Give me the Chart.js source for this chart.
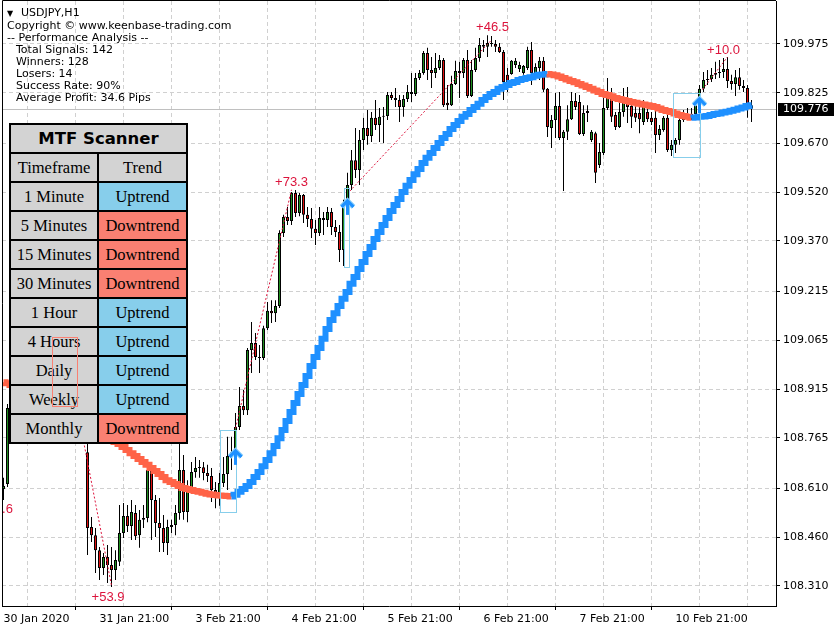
<!DOCTYPE html>
<html>
<head>
<meta charset="utf-8">
<title>USDJPY,H1</title>
<script src="https://cdn.jsdelivr.net/npm/chart.js@4.4.1/dist/chart.umd.min.js"></script>
<style>
  html, body { margin: 0; padding: 0; background: #fff; }
  #wrap { position: relative; width: 840px; height: 630px; overflow: hidden; }
  #chart { position: absolute; left: 0; top: 0; }
  #info { position: absolute; left: 7px; top: 7px; font: 11px "DejaVu Sans"; line-height: 12px; color: #000; white-space: pre; }
  #info .in { padding-left: 9px; }
  #info .tri { display: inline-block; width: 14px; font-size: 8px; }
  #scanner { position: absolute; left: 9px; top: 123px; width: 179px; height: 321px; background: #000; }
  #scanner div { position: absolute; height: 27px; text-align: center; font: 16.5px/27px "Liberation Serif"; color: #000; }
  #scanner div.title { font: bold 16.5px/27px "DejaVu Sans"; }
  #sellBox { position: absolute; border: 1px solid #fa8072; box-sizing: border-box; }
</style>
</head>
<body>
<div id="wrap">
  <canvas id="chart" width="840" height="630"></canvas>
  <div id="info"><span class="tri">▼</span>USDJPY,H1
Copyright © www.keenbase-trading.com
-- Performance Analysis --
<span class="in">Total Signals: 142</span>
<span class="in">Winners: 128</span>
<span class="in">Losers: 14</span>
<span class="in">Success Rate: 90%</span>
<span class="in">Average Profit: 34.6 Pips</span></div>
  <div id="scanner"></div>
  <div id="sellBox"></div>
</div>
<script>
// H1 bars, index 0 = first visible bar
const open = [
  108.608,108.623,108.857,108.887,108.918,108.906,108.961,108.989,108.973,109.010,
  109.035,109.013,109.047,109.019,108.989,109.016,108.955,108.980,108.912,108.881,
  108.820,108.721,108.491,108.466,108.420,108.365,108.399,108.374,108.359,108.384,
  108.473,108.525,108.494,108.534,108.466,108.513,108.519,108.666,108.574,108.503,
  108.488,108.442,108.491,108.497,108.534,108.666,108.537,108.605,108.660,108.672,
  108.675,108.657,108.648,108.605,108.586,108.626,108.654,108.709,108.721,108.798,
  108.863,108.850,109.035,109.056,109.013,109.010,109.102,109.155,109.148,109.170,
  109.394,109.443,109.431,109.517,109.456,109.511,109.450,109.437,109.407,109.394,
  109.440,109.434,109.459,109.413,109.397,109.342,109.480,109.542,109.618,109.588,
  109.680,109.717,109.692,109.748,109.726,109.751,109.754,109.818,109.809,109.803,
  109.781,109.806,109.827,109.821,109.870,109.886,109.947,109.895,109.886,109.901,
  109.926,109.794,109.787,109.852,109.892,109.886,109.926,109.815,109.895,109.932,
  109.972,109.966,109.978,109.975,109.966,109.950,109.880,109.883,109.910,109.898,
  109.886,109.901,109.956,109.883,109.901,109.923,109.837,109.717,109.741,109.784,
  109.686,109.705,109.744,109.800,109.797,109.698,109.763,109.680,109.701,109.603,
  109.640,109.778,109.818,109.757,109.720,109.766,109.809,109.784,109.763,109.763,
  109.735,109.766,109.748,109.748,109.695,109.711,109.748,109.649,109.665,109.680,
  109.741,109.757,109.751,109.760,109.787,109.837,109.864,109.867,109.880,109.886,
  109.889,109.898,109.861,109.852,109.873,109.846,109.840,109.787
];
const high = [
  108.642,108.869,108.906,108.933,108.949,108.973,109.004,109.029,109.019,109.050,
  109.066,109.059,109.075,109.050,109.035,109.041,108.998,109.004,108.943,108.906,
  108.850,108.764,108.522,108.488,108.430,108.411,108.436,108.430,108.420,108.559,
  108.565,108.559,108.574,108.559,108.543,108.559,108.682,108.672,108.589,108.580,
  108.528,108.513,108.513,108.559,108.758,108.712,108.635,108.691,108.706,108.697,
  108.691,108.682,108.672,108.629,108.657,108.706,108.768,108.768,108.841,108.921,
  108.912,109.041,109.121,109.087,109.050,109.109,109.182,109.188,109.188,109.403,
  109.450,109.474,109.520,109.526,109.517,109.514,109.474,109.471,109.434,109.474,
  109.459,109.474,109.471,109.434,109.419,109.496,109.579,109.649,109.717,109.711,
  109.748,109.772,109.766,109.803,109.778,109.781,109.827,109.827,109.840,109.818,
  109.818,109.849,109.886,109.886,109.895,109.953,109.963,109.935,109.947,109.941,
  109.932,109.849,109.877,109.923,109.920,109.932,109.956,109.926,109.963,109.993,
  109.987,110.002,109.999,109.987,109.978,109.956,109.901,109.926,109.932,109.920,
  109.910,109.966,109.981,109.916,109.935,109.935,109.840,109.757,109.824,109.827,
  109.711,109.787,109.827,109.824,109.818,109.787,109.787,109.711,109.705,109.671,
  109.809,109.870,109.840,109.766,109.809,109.840,109.843,109.809,109.797,109.803,
  109.803,109.787,109.766,109.772,109.726,109.754,109.763,109.680,109.686,109.751,
  109.772,109.778,109.778,109.803,109.849,109.889,109.895,109.901,109.920,109.926,
  109.932,109.935,109.880,109.895,109.901,109.864,109.849,109.803
];
const low = [
  108.574,108.614,108.838,108.875,108.893,108.897,108.943,108.967,108.949,108.989,
  108.998,108.992,109.004,108.973,108.967,108.943,108.918,108.897,108.863,108.804,
  108.755,108.405,108.445,108.350,108.328,108.344,108.319,108.307,108.328,108.371,
  108.457,108.476,108.451,108.451,108.427,108.488,108.506,108.451,108.460,108.414,
  108.414,108.405,108.473,108.466,108.513,108.513,108.506,108.599,108.642,108.642,
  108.635,108.629,108.568,108.549,108.556,108.614,108.605,108.666,108.697,108.789,
  108.835,108.835,108.964,109.004,108.964,109.004,109.096,109.118,109.121,109.164,
  109.382,109.419,109.419,109.443,109.446,109.425,109.413,109.379,109.357,109.385,
  109.388,109.413,109.388,109.382,109.305,109.293,109.471,109.526,109.563,109.542,
  109.649,109.665,109.674,109.711,109.674,109.671,109.741,109.803,109.781,109.735,
  109.751,109.797,109.797,109.815,109.864,109.880,109.864,109.840,109.870,109.895,
  109.781,109.772,109.784,109.849,109.809,109.870,109.809,109.812,109.889,109.920,
  109.950,109.935,109.966,109.950,109.947,109.803,109.827,109.880,109.901,109.889,
  109.880,109.895,109.849,109.880,109.864,109.827,109.689,109.655,109.686,109.680,
  109.523,109.680,109.741,109.772,109.695,109.692,109.735,109.674,109.548,109.594,
  109.634,109.772,109.735,109.711,109.717,109.751,109.732,109.717,109.735,109.701,
  109.726,109.735,109.726,109.640,109.680,109.705,109.643,109.631,109.640,109.665,
  109.735,109.741,109.741,109.754,109.781,109.827,109.849,109.858,109.867,109.870,
  109.870,109.840,109.834,109.815,109.834,109.827,109.748,109.735
];
const close = [
  108.617,108.857,108.887,108.918,108.906,108.961,108.989,108.973,109.010,109.035,
  109.013,109.047,109.019,108.989,109.016,108.955,108.980,108.912,108.881,108.820,
  108.764,108.488,108.466,108.420,108.365,108.399,108.374,108.359,108.390,108.473,
  108.525,108.494,108.537,108.463,108.513,108.519,108.666,108.574,108.503,108.488,
  108.442,108.491,108.497,108.534,108.666,108.537,108.605,108.660,108.672,108.675,
  108.657,108.648,108.605,108.586,108.626,108.654,108.709,108.721,108.798,108.863,
  108.850,109.035,109.056,109.013,109.010,109.102,109.155,109.148,109.170,109.394,
  109.443,109.431,109.517,109.456,109.511,109.450,109.437,109.407,109.394,109.440,
  109.434,109.459,109.413,109.397,109.342,109.480,109.542,109.618,109.588,109.680,
  109.717,109.692,109.748,109.726,109.751,109.754,109.818,109.809,109.803,109.781,
  109.806,109.827,109.821,109.870,109.886,109.947,109.895,109.886,109.901,109.926,
  109.787,109.787,109.852,109.892,109.886,109.926,109.815,109.895,109.932,109.972,
  109.966,109.978,109.975,109.966,109.950,109.858,109.858,109.923,109.923,109.910,
  109.907,109.956,109.886,109.904,109.923,109.834,109.720,109.741,109.784,109.686,
  109.705,109.744,109.800,109.781,109.698,109.763,109.769,109.705,109.579,109.643,
  109.778,109.818,109.751,109.720,109.766,109.809,109.781,109.751,109.748,109.744,
  109.797,109.744,109.735,109.695,109.714,109.748,109.649,109.665,109.680,109.741,
  109.757,109.751,109.760,109.787,109.837,109.864,109.867,109.880,109.886,109.889,
  109.898,109.861,109.852,109.873,109.846,109.840,109.787,109.776
];
// trend moving average (blue when rising, tomato when falling)
const trendMA = [
  108.936,108.933,108.927,108.921,108.915,108.909,108.903,108.893,108.887,108.881,
  108.875,108.869,108.860,108.854,108.844,108.838,108.829,108.820,108.814,108.804,
  108.798,108.789,108.783,108.774,108.768,108.761,108.758,108.755,108.752,108.746,
  108.737,108.728,108.718,108.709,108.700,108.691,108.682,108.672,108.663,108.654,
  108.645,108.635,108.629,108.623,108.617,108.611,108.608,108.605,108.602,108.599,
  108.596,108.593,108.591,108.589,108.588,108.587,108.586,108.585,108.590,108.599,
  108.608,108.617,108.629,108.645,108.660,108.678,108.697,108.718,108.740,108.764,
  108.789,108.817,108.844,108.872,108.900,108.927,108.955,108.986,109.013,109.041,
  109.069,109.099,109.127,109.148,109.170,109.192,109.213,109.238,109.259,109.284,
  109.305,109.330,109.351,109.376,109.397,109.419,109.440,109.462,109.480,109.499,
  109.520,109.539,109.557,109.575,109.591,109.609,109.625,109.640,109.655,109.671,
  109.686,109.698,109.714,109.726,109.738,109.751,109.760,109.772,109.781,109.791,
  109.803,109.812,109.821,109.827,109.837,109.843,109.849,109.855,109.858,109.864,
  109.867,109.870,109.873,109.877,109.880,109.881,109.883,109.881,109.879,109.875,
  109.870,109.866,109.861,109.857,109.852,109.847,109.843,109.837,109.832,109.827,
  109.821,109.818,109.814,109.809,109.806,109.803,109.800,109.797,109.794,109.791,
  109.789,109.787,109.784,109.781,109.777,109.772,109.769,109.766,109.761,109.757,
  109.754,109.751,109.748,109.749,109.751,109.752,109.754,109.757,109.760,109.761,
  109.764,109.767,109.770,109.773,109.777,109.780,109.784,109.787
];
const lastPrice = 109.776;

// axes
const priceTicks = [108.310,108.460,108.610,108.765,108.915,109.065,109.215,109.370,109.520,109.670,109.825,109.975];
const gridBars = [0,12,24,36,48,60,72,84,96,108,120,132,144,156,168,180,192];
const timeTickBars = [0,24,48,72,96,120,144,168];
const timeLabels = ['30 Jan 2020','31 Jan 21:00','3 Feb 21:00','4 Feb 21:00','5 Feb 21:00','6 Feb 21:00','7 Feb 21:00','10 Feb 21:00'];

// closed trades (dotted lines) and their results
const tradeEntryBar = [18.5, 58, 86.5, 174.75];
const tradeEntryPrice = [108.850, 108.794, 109.522, 109.835];
const tradeExitBar = [27, 72, 122, 181];
const tradeExitPrice = [108.311, 109.527, 109.987, 109.935];
const labelText = ['+38.6', '+53.9', '+73.3', '+46.5', '+10.0'];
const labelBar = [-1.75, 26.125, 72, 122.25, 180];
const labelPrice = [108.546, 108.276, 109.551, 110.027, 109.955];

// buy signals: arrow + zone box
const signalBar = [58, 86, 174];
const signalPrice = [108.728, 109.496, 109.809];
const boxFromBar = [54, 85, 167.25];
const boxToBar = [58, 86.25, 174];
const boxHigh = [108.789, 109.532, 109.824];
const boxLow = [108.537, 109.290, 109.628];
// sell signal zone
const sellBoxBars = [12, 18.25];
const sellBoxPrices = [109.075, 108.863];

// MTF scanner table
const timeframes = ['1 Minute','5 Minutes','15 Minutes','30 Minutes','1 Hour','4 Hours','Daily','Weekly','Monthly'];
const trends = ['Uptrend','Downtrend','Downtrend','Downtrend','Uptrend','Uptrend','Uptrend','Uptrend','Downtrend'];

const bull = '#1f8f1f', bear = '#e01010';
const maUp = '#1e90ff', maDown = '#ff6347';
const gridColor = '#d0d0d0';
const tradeColor = '#dc143c';

const scanner = document.getElementById('scanner');
function cell(text, left, top, width, bg, cls) {
  const d = document.createElement('div');
  d.textContent = text;
  d.style.left = left + 'px';
  d.style.top = top + 'px';
  d.style.width = width + 'px';
  d.style.background = bg;
  if (cls) d.className = cls;
  scanner.appendChild(d);
}
cell('MTF Scanner', 2, 2, 175, '#d3d3d3', 'title');
cell('Timeframe', 2, 31, 86, '#d3d3d3');
cell('Trend', 90, 31, 87, '#d3d3d3');
timeframes.forEach((tf, r) => {
  const top = 60 + 29 * r;
  cell(tf, 2, top, 86, '#d3d3d3');
  cell(trends[r], 90, top, 87, trends[r] === 'Uptrend' ? '#87ceeb' : '#fa8072');
});

function drawArrow(ctx, cx, tipY) {
  ctx.lineCap = 'butt';
  ctx.strokeStyle = '#87cefa';
  ctx.lineWidth = 5;
  ctx.beginPath(); ctx.moveTo(cx - 6, tipY + 7); ctx.lineTo(cx, tipY + 1); ctx.lineTo(cx + 6, tipY + 7); ctx.stroke();
  ctx.strokeStyle = maUp;
  ctx.lineWidth = 3;
  ctx.beginPath(); ctx.moveTo(cx - 6, tipY + 7); ctx.lineTo(cx, tipY + 1); ctx.lineTo(cx + 6, tipY + 7); ctx.stroke();
  ctx.beginPath(); ctx.moveTo(cx, tipY + 2); ctx.lineTo(cx, tipY + 15); ctx.stroke();
}

const overlay = {
  id: 'overlay',
  beforeDatasetsDraw(chart) {
    const { ctx, chartArea: a, scales: { y } } = chart;
    const py = Math.round(y.getPixelForValue(lastPrice)) + 0.5;
    ctx.save();
    ctx.strokeStyle = '#c0c0c0';
    ctx.lineWidth = 1;
    ctx.beginPath(); ctx.moveTo(a.left, py); ctx.lineTo(a.right, py); ctx.stroke();
    ctx.restore();
  },
  afterDatasetsDraw(chart) {
    const { ctx, chartArea: a, scales: { x, y } } = chart;
    ctx.save();
    ctx.beginPath(); ctx.rect(a.left, a.top, a.right - a.left, a.bottom - a.top); ctx.clip();

    ctx.strokeStyle = tradeColor;
    ctx.lineWidth = 1;
    ctx.setLineDash([2, 2]);
    tradeEntryBar.forEach((b, k) => {
      ctx.beginPath();
      ctx.moveTo(x.getPixelForValue(b), y.getPixelForValue(tradeEntryPrice[k]));
      ctx.lineTo(x.getPixelForValue(tradeExitBar[k]), y.getPixelForValue(tradeExitPrice[k]));
      ctx.stroke();
    });
    ctx.setLineDash([]);

    ctx.strokeStyle = '#87ceeb';
    boxFromBar.forEach((b, k) => {
      const x1 = Math.round(x.getPixelForValue(b)) + 0.5;
      const x2 = Math.round(x.getPixelForValue(boxToBar[k])) + 0.5;
      const y1 = Math.round(y.getPixelForValue(boxHigh[k])) + 0.5;
      const y2 = Math.round(y.getPixelForValue(boxLow[k])) + 0.5;
      ctx.strokeRect(x1, y1, x2 - x1, y2 - y1);
    });

    signalBar.forEach((b, k) => drawArrow(ctx, x.getPixelForValue(b), y.getPixelForValue(signalPrice[k])));

    ctx.fillStyle = tradeColor;
    ctx.font = '13px "Liberation Sans"';
    ctx.textAlign = 'center';
    ctx.textBaseline = 'middle';
    labelText.forEach((t, k) => ctx.fillText(t, x.getPixelForValue(labelBar[k]), y.getPixelForValue(labelPrice[k])));
    ctx.restore();
  },
  afterDraw(chart) {
    const { ctx, chartArea: a, scales: { y } } = chart;
    ctx.save();
    ctx.strokeStyle = '#000';
    ctx.lineWidth = 1;
    ctx.beginPath();
    ctx.moveTo(a.left + 0.5, a.bottom);
    ctx.lineTo(a.left + 0.5, a.top - 0.5);
    ctx.lineTo(a.right, a.top - 0.5);
    ctx.stroke();
    const py = Math.round(y.getPixelForValue(lastPrice));
    ctx.fillStyle = '#000';
    ctx.fillRect(a.right + 2, py - 6, 56, 13);
    ctx.fillStyle = '#fff';
    ctx.font = '11px "DejaVu Sans"';
    ctx.textAlign = 'left';
    ctx.textBaseline = 'middle';
    ctx.fillText(lastPrice.toFixed(3), a.right + 7, py + 0.5);
    ctx.restore();
  }
};

const tickFont = { family: 'DejaVu Sans', size: 11 };

const chart = new Chart(document.getElementById('chart'), {
  type: 'bar',
  data: {
    datasets: [
      {
        type: 'line',
        label: 'Trend MA',
        data: trendMA.map((v, i) => ({ x: i, y: v })),
        borderColor: maUp,
        borderWidth: 6,
        borderCapStyle: 'butt',
        borderJoinStyle: 'miter',
        stepped: 'middle',
        pointRadius: 0,
        segment: { borderColor: c => c.p1.parsed.y < c.p0.parsed.y ? maDown : maUp },
        order: 0
      },
      {
        label: 'Wick',
        data: low.map((l, i) => ({ x: i, y: [l, high[i]] })),
        backgroundColor: '#000',
        borderWidth: 0,
        barThickness: 1,
        inflateAmount: 0,
        grouped: false,
        order: 2
      },
      {
        label: 'Body',
        data: open.map((o, i) => ({ x: i, y: [o, close[i]] })),
        backgroundColor: close.map((c, i) => c >= open[i] ? bull : bear),
        borderColor: '#000',
        borderWidth: 1,
        borderSkipped: false,
        barThickness: 3,
        minBarLength: 1,
        inflateAmount: 0,
        grouped: false,
        order: 1
      }
    ]
  },
  options: {
    responsive: false,
    animation: false,
    events: [],
    layout: { padding: { left: 2, top: 1, right: 0, bottom: 0 }, autoPadding: false },
    plugins: { legend: { display: false }, tooltip: { enabled: false } },
    scales: {
      x: {
        type: 'linear',
        min: -0.375,
        max: 193.125,
        bounds: 'data',
        offset: false,
        afterBuildTicks: s => { s.ticks = gridBars.map(v => ({ value: v })); },
        afterFit: s => { s.height = 24; s.paddingLeft = 0; s.paddingRight = 0; },
        grid: {
          color: gridColor,
          tickLength: 4,
          tickColor: c => (c.tick && timeTickBars.includes(c.tick.value)) ? '#000' : 'rgba(0,0,0,0)'
        },
        border: { color: '#000', dash: [4, 3] },
        ticks: {
          align: 'start',
          autoSkip: false,
          maxRotation: 0,
          minRotation: 0,
          padding: 3,
          color: '#000',
          font: tickFont,
          callback: v => {
            const k = timeTickBars.indexOf(v);
            return k < 0 ? '' : timeLabels[k];
          }
        }
      },
      y: {
        position: 'right',
        min: 108.2484,
        max: 110.1069,
        bounds: 'data',
        afterBuildTicks: s => { s.ticks = priceTicks.map(v => ({ value: v })); },
        afterFit: s => { s.width = 64; s.paddingTop = 0; s.paddingBottom = 0; },
        grid: { color: gridColor, tickLength: 4, tickColor: '#000' },
        border: { color: '#000', dash: [4, 3] },
        ticks: { padding: 3, color: '#000', font: tickFont, callback: v => v.toFixed(3) }
      }
    }
  },
  plugins: [overlay]
});

// sell zone box sits on top of the scanner table
const sx = chart.scales.x, sy = chart.scales.y;
const bl = Math.round(sx.getPixelForValue(sellBoxBars[0]));
const br = Math.round(sx.getPixelForValue(sellBoxBars[1]));
const bt = Math.round(sy.getPixelForValue(sellBoxPrices[0]));
const bb = Math.round(sy.getPixelForValue(sellBoxPrices[1]));
const sellBox = document.getElementById('sellBox');
sellBox.style.left = bl + 'px';
sellBox.style.top = bt + 'px';
sellBox.style.width = (br - bl + 1) + 'px';
sellBox.style.height = (bb - bt + 1) + 'px';
</script>
</body>
</html>
